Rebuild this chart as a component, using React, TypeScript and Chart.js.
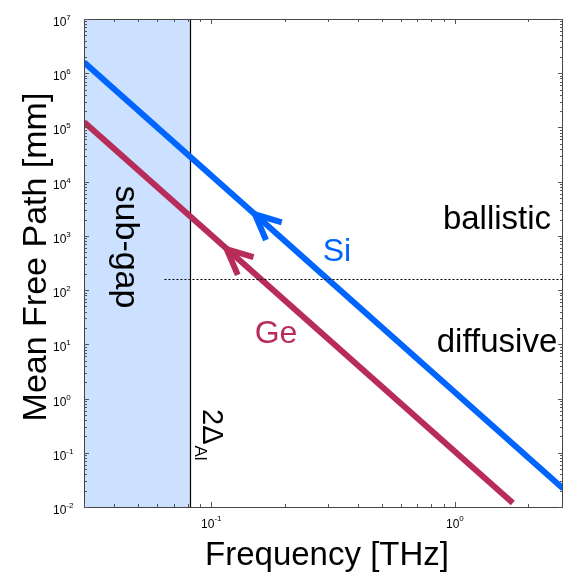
import React, { useEffect, useRef } from 'react';
import { Chart, registerables } from 'chart.js';
Chart.register(...registerables);

// ---- data ----
const siFreq = [0.03, 2.78];
const siMfp = [1.6e6, 0.022];
const geFreq = [0.03, 1.73];
const geMfp = [1.26e5, 0.0118];
const siArrow = [0.151, 2500];
const geArrow = [0.1156, 570];
const gapFreq = 0.082;
const boundaryMfp = 158;
const boundaryStart = 0.0642;
const xRange = [0.03, 2.78];
const yRange = [1e-2, 1e7];
const yTickExps = [-2, -1, 0, 1, 2, 3, 4, 5, 6, 7];
const xTickExps = [-2, -1, 0, 1];

const SI_COLOR = '#0064ff';
const GE_COLOR = '#b82c5a';
const GAP_FILL = '#cce0ff';
const AXIS_COLOR = '#444';
const FONT = '"Liberation Sans", Arial, Helvetica, sans-serif';

const deco = {
  id: 'deco',
  beforeDatasetsDraw(chart: any) {
    const { ctx, chartArea: a, scales } = chart;
    const x = scales.x;
    const gx = Math.round(x.getPixelForValue(gapFreq));
    ctx.save();
    ctx.fillStyle = GAP_FILL;
    ctx.fillRect(a.left, a.top, gx - a.left, a.bottom - a.top);
    ctx.strokeStyle = '#000';
    ctx.lineWidth = 1.2;
    ctx.beginPath();
    ctx.moveTo(gx + 0.5, a.top);
    ctx.lineTo(gx + 0.5, a.bottom);
    ctx.stroke();
    ctx.restore();
  },
  afterDatasetsDraw(chart: any) {
    const { ctx, chartArea: a, scales } = chart;
    const x = scales.x;
    const y = scales.y;
    ctx.save();

    // dotted ballistic/diffusive boundary
    const by = Math.round(y.getPixelForValue(boundaryMfp)) + 0.5;
    ctx.strokeStyle = '#000';
    ctx.lineWidth = 1;
    ctx.setLineDash([2, 2]);
    ctx.beginPath();
    ctx.moveTo(x.getPixelForValue(boundaryStart), by);
    ctx.lineTo(a.right, by);
    ctx.stroke();
    ctx.setLineDash([]);

    // arrowheads
    const arrow = (fr: number[], mf: number[], tip: number[], color: string) => {
      const x0 = x.getPixelForValue(fr[0]);
      const y0 = y.getPixelForValue(mf[0]);
      const x1 = x.getPixelForValue(fr[1]);
      const y1 = y.getPixelForValue(mf[1]);
      const ang = Math.atan2(y1 - y0, x1 - x0);
      const tx = x.getPixelForValue(tip[0]);
      const ty = y.getPixelForValue(tip[1]);
      const spread = (25 * Math.PI) / 180;
      const len = 28;
      ctx.strokeStyle = color;
      ctx.lineWidth = 6;
      ctx.lineJoin = 'miter';
      ctx.lineCap = 'butt';
      ctx.beginPath();
      ctx.moveTo(tx + len * Math.cos(ang - spread), ty + len * Math.sin(ang - spread));
      ctx.lineTo(tx, ty);
      ctx.lineTo(tx + len * Math.cos(ang + spread), ty + len * Math.sin(ang + spread));
      ctx.stroke();
    };
    arrow(siFreq, siMfp, siArrow, SI_COLOR);
    arrow(geFreq, geMfp, geArrow, GE_COLOR);

    // axes box
    ctx.strokeStyle = AXIS_COLOR;
    ctx.lineWidth = 1;
    ctx.beginPath();
    ctx.moveTo(a.left + 0.5, a.top + 0.5);
    ctx.lineTo(a.right, a.top + 0.5);
    ctx.moveTo(a.left + 0.5, a.top + 0.5);
    ctx.lineTo(a.left + 0.5, a.bottom + 0.5);
    ctx.lineTo(a.right, a.bottom + 0.5);
    ctx.moveTo(a.right - 0.5, a.top);
    ctx.lineTo(a.right - 0.5, a.bottom);
    ctx.stroke();

    // ticks
    ctx.strokeStyle = '#555';
    ctx.beginPath();
    for (const e of yTickExps) {
      for (let m = 1; m <= 9; m++) {
        const v = m * Math.pow(10, e);
        if (v < yRange[0] * 0.999 || v > yRange[1] * 1.001) continue;
        const py = Math.round(y.getPixelForValue(v)) + 0.5;
        const L = m === 1 ? 5 : 3;
        ctx.moveTo(a.left, py);
        ctx.lineTo(a.left + L, py);
        ctx.moveTo(a.right, py);
        ctx.lineTo(a.right - L, py);
      }
    }
    for (const e of xTickExps) {
      for (let m = 1; m <= 9; m++) {
        const v = m * Math.pow(10, e);
        if (v < xRange[0] * 0.999 || v > xRange[1] * 1.001) continue;
        const px = Math.round(x.getPixelForValue(v)) + 0.5;
        const L = m === 1 ? 5 : 3;
        ctx.moveTo(px, a.bottom);
        ctx.lineTo(px, a.bottom - L);
        ctx.moveTo(px, a.top);
        ctx.lineTo(px, a.top + L);
      }
    }
    ctx.stroke();

    // tick labels
    ctx.fillStyle = '#000';
    ctx.textBaseline = 'alphabetic';
    ctx.textAlign = 'left';
    const bigF = `12px ${FONT}`;
    const smallF = `8px ${FONT}`;
    for (const e of yTickExps) {
      const py = y.getPixelForValue(Math.pow(10, e));
      ctx.font = bigF;
      ctx.fillText('10', 53, py + 7);
      const w = ctx.measureText('10').width;
      ctx.font = smallF;
      ctx.fillText(String(e), 53 + w, py + 1);
    }
    for (const e of xTickExps) {
      const v = Math.pow(10, e);
      if (v < xRange[0] || v > xRange[1]) continue;
      const px = x.getPixelForValue(v);
      ctx.font = bigF;
      const w1 = ctx.measureText('10').width;
      ctx.font = smallF;
      const w2 = ctx.measureText(String(e)).width;
      const start = px - (w1 + w2) / 2;
      ctx.font = bigF;
      ctx.fillText('10', start, a.bottom + 21);
      ctx.font = smallF;
      ctx.fillText(String(e), start + w1, a.bottom + 14);
    }

    // axis titles
    ctx.font = `33px ${FONT}`;
    ctx.textAlign = 'center';
    ctx.fillText('Frequency [THz]', 327, 565);
    ctx.save();
    ctx.translate(46, 257);
    ctx.rotate(-Math.PI / 2);
    ctx.font = `34px ${FONT}`;
    ctx.fillText('Mean Free Path [mm]', 0, 0);
    ctx.restore();

    // annotations
    ctx.font = `33px ${FONT}`;
    ctx.fillText('ballistic', 497, 229);
    ctx.fillText('diffusive', 497, 352);
    ctx.font = `32px ${FONT}`;
    ctx.fillStyle = SI_COLOR;
    ctx.fillText('Si', 337, 261);
    ctx.fillStyle = GE_COLOR;
    ctx.fillText('Ge', 276, 343);

    ctx.fillStyle = '#000';
    ctx.save();
    ctx.translate(116, 247);
    ctx.rotate(Math.PI / 2);
    ctx.font = `34px ${FONT}`;
    ctx.textAlign = 'center';
    ctx.fillText('sub-gap', 0, 0);
    ctx.restore();

    ctx.save();
    ctx.translate(203, 409);
    ctx.rotate(Math.PI / 2);
    ctx.textAlign = 'left';
    ctx.font = `29px ${FONT}`;
    ctx.fillText('2Δ', 0, 0);
    const w = ctx.measureText('2Δ').width;
    ctx.font = `17px ${FONT}`;
    ctx.fillText('Al', w + 1, 8);
    ctx.restore();

    ctx.restore();
  },
};

export default function App() {
  const ref = useRef<HTMLCanvasElement>(null);
  useEffect(() => {
    if (!ref.current) return;
    const chart = new Chart(ref.current, {
      type: 'scatter',
      data: {
        datasets: [
          {
            label: 'Si',
            data: siFreq.map((f, i) => ({ x: f, y: siMfp[i] })),
            showLine: true,
            borderColor: SI_COLOR,
            borderWidth: 6,
            pointRadius: 0,
            borderCapStyle: 'butt',
          },
          {
            label: 'Ge',
            data: geFreq.map((f, i) => ({ x: f, y: geMfp[i] })),
            showLine: true,
            borderColor: GE_COLOR,
            borderWidth: 6,
            pointRadius: 0,
            borderCapStyle: 'butt',
          },
        ],
      },
      options: {
        animation: false,
        responsive: false,
        devicePixelRatio: 1,
        layout: { padding: { left: 0, top: 19, right: 0, bottom: 0 } },
        plugins: { legend: { display: false }, tooltip: { enabled: false } },
        scales: {
          x: {
            type: 'logarithmic',
            min: xRange[0],
            max: xRange[1],
            grid: { display: false, drawTicks: false },
            border: { display: false },
            ticks: { display: false },
            afterFit: (s: any) => {
              s.height = 68;
            },
          },
          y: {
            type: 'logarithmic',
            min: yRange[0],
            max: yRange[1],
            grid: { display: false, drawTicks: false },
            border: { display: false },
            ticks: { display: false },
            afterFit: (s: any) => {
              s.width = 84;
            },
          },
        },
      },
      plugins: [deco],
    } as any);
    return () => chart.destroy();
  }, []);
  return (
    <div style={{ position: 'fixed', left: 0, top: 0, width: 563, height: 575, background: '#fff' }}>
      <canvas ref={ref} width={563} height={575} />
    </div>
  );
}
